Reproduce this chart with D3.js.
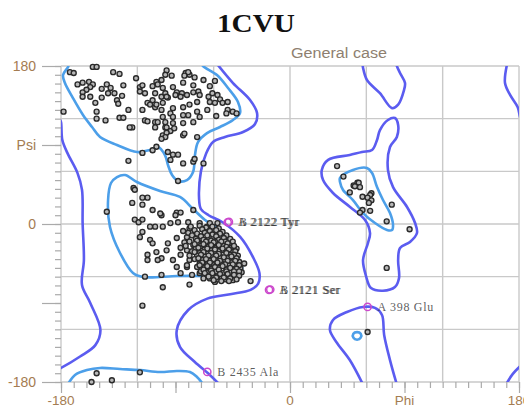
<!DOCTYPE html>
<html><head><meta charset="utf-8">
<script src="https://cdn.jsdelivr.net/npm/d3@7"></script>
<style>body{margin:0;background:#fff}svg{display:block}</style>
</head><body>
<svg id="chart" width="524" height="408"></svg>
<script>
const titleText = "1CVU";
const panelText = "General case";
const gridValues = [-180, -120, -60, 0, 60, 120, 180];
const psiLabels = [[180, "180"], [90, "Psi"], [0, "0"], [-180, "-180"]];
const phiLabels = [[-180, "-180"], [0, "0"], [90, "Phi"], [180, "180"]];

// residue backbone angles [phi, psi]
const betaResidues = [
  [-173,173],[-170,172],[-155,179],[-152,179],[-139,173],[-134,171],[-121,166],[-97,175],[-93,169],[-82,172],[-79,170],[-75,167],[-80,173],[-83,169],
  [-167,159],[-163,161],[-158,162],[-155,159],[-157,156],[-144,159],[-131,158],[-160,153],[-163,150],[-148,154],[-141,155],[-143,149],[-138,149],
  [-163,145],[-157,145],[-153,138],[-148,144],[-136,141],[-135,137],[-132,146],[-127,130],[-178,128],[-152,128],[-152,120],[-145,118],[-134,121],[-131,121],
  [-118,156],[-118,151],[-116,158],[-114,149],[-108,157],[-105,162],[-101,164],[-112,138],[-116,130],[-108,141],[-104,159],[-98,170],[-101,145],[-98,149],[-96,144],
  [-106,133],[-101,130],[-94,126],[-114,118],[-106,116],[-98,116],[-124,110],[-106,110],[-98,110],
  [-92,156],[-84,161],[-76,158],[-63,157],[-59,163],[-68,164],[-106,149],[-100,155],[-89,150],[-85,149],[-81,147],[-76,150],[-72,151],[-71,147],[-64,145],[-61,149],[-57,147],[-55,142],[-63,139],[-59,138],[-53,138],[-49,139],
  [-100,138],[-92,132],[-84,133],[-79,136],[-73,139],[-49,130],[-45,128],[-42,126],[-50,126],[-73,128],[-80,124],[-84,124],[-92,122],[-100,122],[-110,136],[-105,136],[-97,145],[-90,147],[-86,145],
  [-65,130],[-58,123],[-71,122],[-76,116],[-84,115],[-92,115],[-104,116],[-112,117],[-97,110],[-94,106],[-91,109],[-100,101],[-97,104],[-84,101],[-73,99],[-126,110],[-83,103],[-98,99],[-101,97],
  [-105,88],[-108,84],[-116,81],[-96,82],[-92,79],[-88,79],[-94,73],[-84,69],[-76,71],[-75,74],[-68,69],[-127,72],[-88,49]
];

const alphaResidues = [
  [-123,41],[-122,39],[-112,30],[-116,30],[-116,22],[-124,24],[-144,14],[-122,5],[-119,2],[-116,5],[-108,16],[-101,10],[-89,13],[-86,13],[-80,2],[-76,16],
  [-88,2],[-94,1],[-100,-3],[-106,-3],[-110,-3],[-116,-9],[-118,-15],[-110,-18],[-108,-22],[-96,-22],[-89,-16],[-83,-21],[-81,-15],[-79,-5],[-71,1],[-65,-3],
  [-61,-7],[-55,-16],[-63,1],[-57,1],[-86,-27],[-97,-30],[-105,-32],[-112,-35],[-101,-39],[-112,-41],[-104,-41],[-92,-41],[-86,-35],[-81,-30],[-79,-41],[-69,-22],
  [-71,-41],[-89,-49],[-81,-49],[-71,-56],[-77,-58],[-114,-60],[-101,-58],[-86,-56],[-79,-69],[-100,-72],[-59,-66],[-49,-62],[-31,-65],[-116,-93],[-102,12],[-90,10],
  // helical core
  [-78,-3],[-71,-2],[-66,-4],[-61,-3],[-56,-5],
  [-75,-7],[-69,-6],[-63,-8],[-58,-7],[-53,-9],
  [-80,-10],[-73,-11],[-67,-10],[-61,-12],[-55,-11],[-50,-13],
  [-77,-13],[-70,-14],[-64,-15],[-58,-14],[-52,-16],[-47,-17],
  [-74,-17],[-68,-18],[-62,-19],[-56,-18],[-51,-20],[-45,-20],
  [-79,-20],[-72,-21],[-66,-22],[-60,-23],[-54,-22],[-48,-24],
  [-76,-24],[-70,-25],[-64,-26],[-58,-27],[-52,-25],[-46,-27],[-42,-28],
  [-74,-28],[-67,-29],[-62,-30],[-56,-31],[-50,-30],[-45,-32],
  [-77,-31],[-71,-33],[-65,-34],[-59,-33],[-53,-35],[-47,-35],[-41,-36],
  [-73,-36],[-67,-37],[-61,-38],[-55,-37],[-49,-39],[-44,-40],
  [-75,-40],[-69,-41],[-63,-42],[-58,-41],[-52,-43],[-46,-44],[-40,-43],
  [-71,-45],[-65,-46],[-60,-47],[-54,-45],[-48,-47],[-43,-48],
  [-73,-49],[-67,-50],[-62,-51],[-56,-50],[-50,-52],[-45,-52],[-39,-50],
  [-70,-54],[-64,-55],[-58,-54],[-53,-56],[-47,-55],[-42,-56],
  [-66,-58],[-60,-59],[-55,-60],[-49,-59],[-44,-61],
  [-63,-62],[-57,-63],[-51,-63],[-45,-64],
  [-84,-8],[-82,-25],[-79,-36],[-36,-45],[-38,-55],[-68,-62],[-81,-47],[-59,-20],[-65,-13],[-57,-45],[-62,-36],[-51,-41],
  [-73,-19],[-66,-20],[-60,-21],[-54,-20],[-49,-22],
  [-75,-23],[-68,-23],[-62,-24],[-56,-24],[-50,-26],[-44,-25],
  [-72,-27],[-65,-28],[-59,-29],[-53,-28],[-48,-29],[-43,-31],
  [-75,-32],[-68,-32],[-62,-33],[-56,-34],[-50,-33],[-44,-35],
  [-70,-35],[-64,-36],[-58,-36],[-52,-38],[-46,-37],[-42,-39],
  [-72,-39],[-66,-40],[-60,-40],[-55,-42],[-49,-42],[-43,-42],
  [-69,-44],[-63,-44],[-57,-44],[-51,-46],[-45,-46],[-40,-47],
  [-71,-47],[-65,-48],[-59,-49],[-53,-48],[-47,-50],[-42,-51],
  [-68,-52],[-62,-53],[-56,-52],[-50,-54],[-44,-54],[-40,-54],
  [-67,-56],[-61,-56],[-55,-57],[-49,-57],[-44,-58],[-40,-59],
  [-64,-60],[-58,-61],[-52,-61],[-47,-62],[-42,-63],
  [-60,-64],[-54,-65],[-48,-65]
];

const leftHandedResidues = [
  [37,66],[42,54],[50,44],[53,47],[54,47],[51,43],[55,42],[47,36],[64,35],[63,33],[57,31],[61,30],[64,27],[62,24],[80,22],[57,16],[63,15],[55,13],[76,3],[94,-6],[76,-50]
];

const otherResidues = [[-118,-169],[-152,-170],[-156,-180],[-140,-178],[61,-123]];

// residues outside the allowed regions
const outlierPhi = [-49, -48, -16.5, -15.5, 61, -65];
const outlierPsi = [2, 2.4, -75, -74.6, -94.5, -168.5];
const outlierNames = ["A 2122 Tyr", "B 2122 Tyr", "A 2121 Ser", "B 2121 Ser", "A  398 Glu", "B 2435 Ala"];

// allowed-region contour lines [phi, psi]
const allowedContours = [
  {closed:false, pts:[[-56.6,181],[-44.8,160.6],[-31.4,141.2],[-25.9,126.4],[-27.5,113.9],[-36.9,104.8],[-51.1,99.1],[-60.5,93.4],[-66,80],[-70,60],[-71.5,30],[-70,17],[-64,10],[-53,2],[-39,-15],[-29,-38],[-24,-56],[-25,-68],[-31,-75],[-47,-80],[-65,-85],[-80,-98],[-89,-121],[-86.5,-140],[-75,-157],[-63,-172],[-56,-182]]},
  {closed:false, pts:[[-181,119],[-180,116],[-179,96],[-175,81],[-167,58],[-163.5,39],[-163,1],[-162,-41],[-163.5,-69.5],[-157,-90],[-149,-121],[-153,-138],[-165,-151],[-180,-164],[-183,-166]]},
  {closed:false, pts:[[170.6,182],[169,160.6],[173,147],[179,133],[181,121],[183,115]]},
  {closed:false, pts:[[170,-183],[171,-180],[175,-171],[181,-162]]},
  {closed:false, pts:[[57,183],[57.4,178],[60.5,164],[70.7,149],[80.2,132],[85,136],[89.5,152],[90.4,160.6],[86.5,172],[84,180],[83.5,183]]},
  {closed:false, pts:[[57.4,-183],[47,-155],[37,-135.5],[31.4,-121],[33.8,-109.3],[44.8,-100.2],[57.4,-94.5],[66.8,-95.6],[72.3,-103.6],[74,-126.4],[78.6,-155],[84,-183]]},
  {closed:true, pts:[[64.5,84.3],[68.4,95.7],[70.7,107],[77,118.5],[82.5,120.7],[85,112.8],[84,99.1],[78.6,87.7],[77,61.5],[81,42],[92,19.4],[98.3,1.1],[99.8,-10.3],[94.3,-20.5],[86.5,-27.3],[85,-41],[85.7,-61.5],[82.5,-71.8],[73,-76],[63.7,-73],[59.7,-59],[57.4,-41],[61.3,-21.6],[62.9,-10.3],[59,4.6],[47.2,19.4],[33.8,35.3],[26,50],[25,61.5],[30,73],[47,78.6],[56.6,82]]}
];

// favoured-region contour lines [phi, psi]
const favouredContours = [
  {closed:false, pts:[[-70,184],[-68.4,180],[-57.4,169.7],[-48.7,154.9],[-40.9,139],[-39.3,126.4],[-44.8,118.5],[-55,110.5],[-65.2,103.6],[-72.3,93.4],[-74.7,78.6],[-76.2,59.2],[-81,50.1],[-88,49],[-92.7,55.8],[-95.9,67.2],[-98.3,78.6],[-103.8,87.7],[-110,84.3],[-120.3,82],[-136,90],[-149.3,99.1],[-155.6,110.5],[-162.7,124.2],[-170.6,143.5],[-176.9,160.6],[-178.4,169.7],[-174.5,178.8],[-173,184]]},
  {closed:false, pts:[[-175.5,-184],[-174.5,-182],[-169,-172],[-159.6,-166.4],[-149.3,-164],[-133.6,-165.2],[-117.9,-166.4],[-102.2,-168.6],[-88.8,-167.4],[-78.6,-168.6],[-73.1,-174.3],[-69.2,-181],[-68,-184]]},
  {closed:true, pts:[[-136,53.5],[-129.7,55.8],[-120.3,47.8],[-102.2,37.6],[-86.5,30.8],[-76.2,17.1],[-66.8,4.6],[-55,-6.8],[-47.2,-21.6],[-41.7,-37.6],[-37.7,-49],[-39.3,-58.1],[-47.2,-61.5],[-70.7,-59.2],[-88.8,-59.2],[-115.5,-60.4],[-123.4,-55.8],[-133.6,-33],[-141.5,-3.4],[-143,27.3],[-140.7,46.7]]},
  {closed:true, pts:[[39.3,52.4],[49.5,61.5],[60.5,63.8],[64.5,58.1],[68.4,42.1],[73.1,27.3],[78.6,12.5],[81,-1.1],[80.2,-6.8],[76.2,-6.8],[66.8,1.1],[57.4,12.5],[49.5,27.3],[41.7,38.7],[39.3,47.8]]},
  {closed:true, pts:[[52.7,-123.2],[55.6,-125],[55.6,-129.5],[52.7,-131.8],[49.8,-129.5],[49.8,-125]]}
];

const W = 524, H = 408;
const svg = d3.select("#chart");
svg.append("rect").attr("width", W).attr("height", H).attr("fill", "#fff");

const x = d3.scaleLinear().domain([-180, 180]).range([61, 519]);
const y = d3.scaleLinear().domain([-180, 180]).range([382, 66]);

const labelColor = "#a47c52";
const gridColor = "#c9c9c9";

// title and panel caption
svg.append("text").attr("x", 256).attr("y", 32).attr("text-anchor", "middle")
  .attr("font-family", "'Liberation Serif', 'Times New Roman', serif").attr("font-weight", "bold")
  .attr("font-size", 26).attr("textLength", 78).attr("lengthAdjust", "spacingAndGlyphs")
  .attr("fill", "#111").text(titleText);
svg.append("text").attr("x", 339).attr("y", 58).attr("text-anchor", "middle")
  .attr("font-family", "'Liberation Sans', Arial, sans-serif").attr("font-size", 14)
  .attr("textLength", 96).attr("lengthAdjust", "spacingAndGlyphs")
  .attr("fill", "#8e7f70").text(panelText);

// grid
const grid = svg.append("g").attr("stroke", gridColor).attr("stroke-width", 1.4);
grid.selectAll("line.v").data(gridValues).join("line").attr("class", "v")
  .attr("x1", d => x(d)).attr("x2", d => x(d)).attr("y1", y(180)).attr("y2", y(-180));
grid.selectAll("line.h").data(gridValues).join("line").attr("class", "h")
  .attr("y1", d => y(d)).attr("y2", d => y(d)).attr("x1", x(-180)).attr("x2", x(180));

// axes: minor ticks every 10 degrees, major every 90
const minorVals = d3.range(-180, 181, 10);
const majorVals = d3.range(-180, 181, 90);
const leftAxis = svg.append("g").attr("transform", `translate(${x(-180)},0)`)
  .call(d3.axisLeft(y).tickValues(minorVals).tickSize(6).tickFormat(""));
const leftMajor = svg.append("g").attr("transform", `translate(${x(-180)},0)`)
  .call(d3.axisLeft(y).tickValues(majorVals).tickSize(19).tickFormat(""));
const bottomAxis = svg.append("g").attr("transform", `translate(0,${y(-180)})`)
  .call(d3.axisBottom(x).tickValues(minorVals).tickSize(6).tickFormat(""));
const bottomMajor = svg.append("g").attr("transform", `translate(0,${y(-180)})`)
  .call(d3.axisBottom(x).tickValues(majorVals).tickSize(11).tickFormat(""));
[leftAxis, leftMajor, bottomAxis, bottomMajor].forEach(g => {
  g.select(".domain").remove();
  g.selectAll("line").attr("stroke", "#aaa").attr("stroke-width", 1.2);
});

const sans = "'Liberation Sans', Arial, sans-serif";
svg.append("g").selectAll("text").data(psiLabels).join("text")
  .attr("x", 36).attr("y", d => y(d[0])).attr("dy", "0.36em").attr("text-anchor", "end")
  .attr("font-family", sans).attr("font-size", 14).attr("fill", labelColor).text(d => d[1]);
svg.append("g").selectAll("text").data(phiLabels).join("text")
  .attr("x", d => x(d[0])).attr("y", 405).attr("text-anchor", "middle")
  .attr("font-family", sans).attr("font-size", 13.5).attr("fill", labelColor).text(d => d[1]);

// contours, clipped to the plot square
svg.append("clipPath").attr("id", "plotClip").append("rect")
  .attr("x", x(-180)).attr("y", y(180)).attr("width", x(180) - x(-180)).attr("height", y(-180) - y(180));
const contourLayer = svg.append("g").attr("clip-path", "url(#plotClip)").attr("fill", "none")
  .attr("stroke-width", 2.6).attr("stroke-linejoin", "round");
function contourPath(c) {
  return d3.line().x(d => x(d[0])).y(d => y(d[1]))
    .curve(c.closed ? d3.curveCatmullRomClosed : d3.curveCatmullRom)(c.pts);
}
contourLayer.selectAll("path.allowed").data(allowedContours).join("path").attr("class", "allowed")
  .attr("stroke", "#5b5cf0").attr("d", contourPath);
contourLayer.selectAll("path.fav").data(favouredContours).join("path").attr("class", "fav")
  .attr("stroke", "#4c9fe9").attr("d", contourPath);

// residues
const residues = [].concat(betaResidues, alphaResidues, leftHandedResidues, otherResidues);
svg.append("g").selectAll("circle").data(residues).join("circle")
  .attr("cx", d => x(d[0])).attr("cy", d => y(d[1])).attr("r", 2.5)
  .attr("fill", "#b8b8b8").attr("stroke", "#2a2a2a").attr("stroke-width", 1.35);

// outliers with labels
const outliers = outlierNames.map((n, i) => ({name: n, phi: outlierPhi[i], psi: outlierPsi[i]}));
const og = svg.append("g");
og.selectAll("circle").data(outliers).join("circle")
  .attr("cx", d => x(d.phi)).attr("cy", d => y(d.psi)).attr("r", 3.6)
  .attr("fill", "none").attr("stroke", "#cc48cc").attr("stroke-width", 1.5);
og.selectAll("text").data(outliers).join("text")
  .attr("x", d => x(d.phi) + 10).attr("y", d => y(d.psi)).attr("dy", "0.35em")
  .attr("font-family", "'Liberation Serif', 'Times New Roman', serif").attr("font-size", 12)
  .attr("letter-spacing", 0.7).attr("fill", "#333").attr("fill-opacity", 0.8).text(d => d.name);
</script>
</body></html>
